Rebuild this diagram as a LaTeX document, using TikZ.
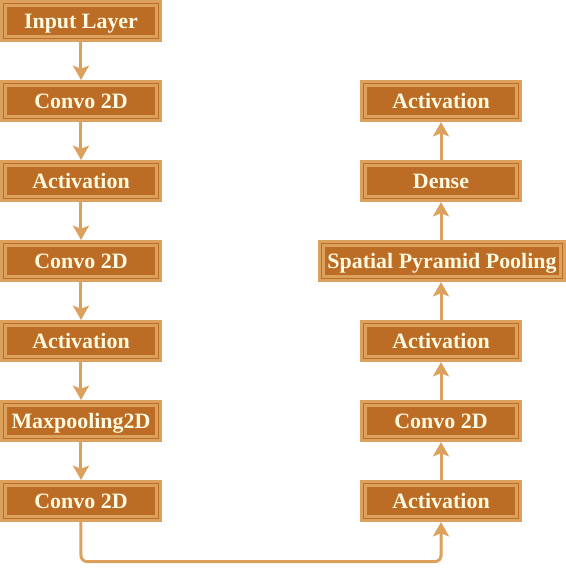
\documentclass[tikz,border=0pt]{standalone}
\usepackage{fontspec}
\setmainfont{Liberation Serif}
\usetikzlibrary{arrows.meta}

\definecolor{boxfill}{HTML}{BC6C25}
\definecolor{boxline}{HTML}{DDA15E}
\definecolor{boxtext}{HTML}{FEFAE0}

\tikzset{
  layer/.style={draw=boxline, double=boxfill, line width=0.075cm,
    double distance=0.025cm, fill=boxfill, text=boxtext,
    font=\bfseries\fontsize{15.6}{18}\selectfont,
    text height=10.4pt, text depth=0pt,
    minimum width=3.875cm, minimum height=0.875cm,
    inner sep=0pt, outer sep=0.0875cm},
  link/.style={draw=boxline, line width=0.075cm,
    -{Stealth[length=0.36cm, width=0.4cm, inset=0.08cm]}}
}

\begin{document}
\begin{tikzpicture}
  \def\Xl{2.025}; % left column
  \def\Xr{11.025}; % right column
  \def\Ylow{-14.04}; % bottom link
  \useasboundingbox (0,0) rectangle (14.15,-14.275);

  % left column
  \node[layer] (input) at (\Xl, -0.525) {Input Layer};
  \node[layer] (convA) at (\Xl, -2.525) {Convo 2D};
  \node[layer] (actA)  at (\Xl, -4.525) {Activation};
  \node[layer] (convB) at (\Xl, -6.525) {Convo 2D};
  \node[layer] (actB)  at (\Xl, -8.525) {Activation};
  \node[layer] (pool)  at (\Xl, -10.525) {Maxpooling2D};
  \node[layer] (convC) at (\Xl, -12.525) {Convo 2D};

  % right column
  \node[layer] (actC)  at (\Xr, -12.525) {Activation};
  \node[layer] (convD) at (\Xr, -10.525) {Convo 2D};
  \node[layer] (actD)  at (\Xr, -8.525) {Activation};
  \node[layer, minimum width=6.025cm] (spp) at (\Xr + 0.025, -6.525) {Spatial Pyramid Pooling};
  \node[layer] (dense) at (\Xr, -4.525) {Dense};
  \node[layer] (actE)  at (\Xr, -2.525) {Activation};

  % links down
  \draw[link] (input) -- (convA);
  \draw[link] (convA) -- (actA);
  \draw[link] (actA) -- (convB);
  \draw[link] (convB) -- (actB);
  \draw[link] (actB) -- (pool);
  \draw[link] (pool) -- (convC);

  % across the bottom
  \draw[link, rounded corners=0.15cm] (convC.south) -- (\Xl, \Ylow) -| (actC.south);

  % links up
  \draw[link] (actC) -- (convD);
  \draw[link] (convD) -- (actD);
  \draw[link] (actD) -- (actD |- spp.south);
  \draw[link] (spp.north -| dense) -- (dense);
  \draw[link] (dense) -- (actE);
\end{tikzpicture}
\end{document}
